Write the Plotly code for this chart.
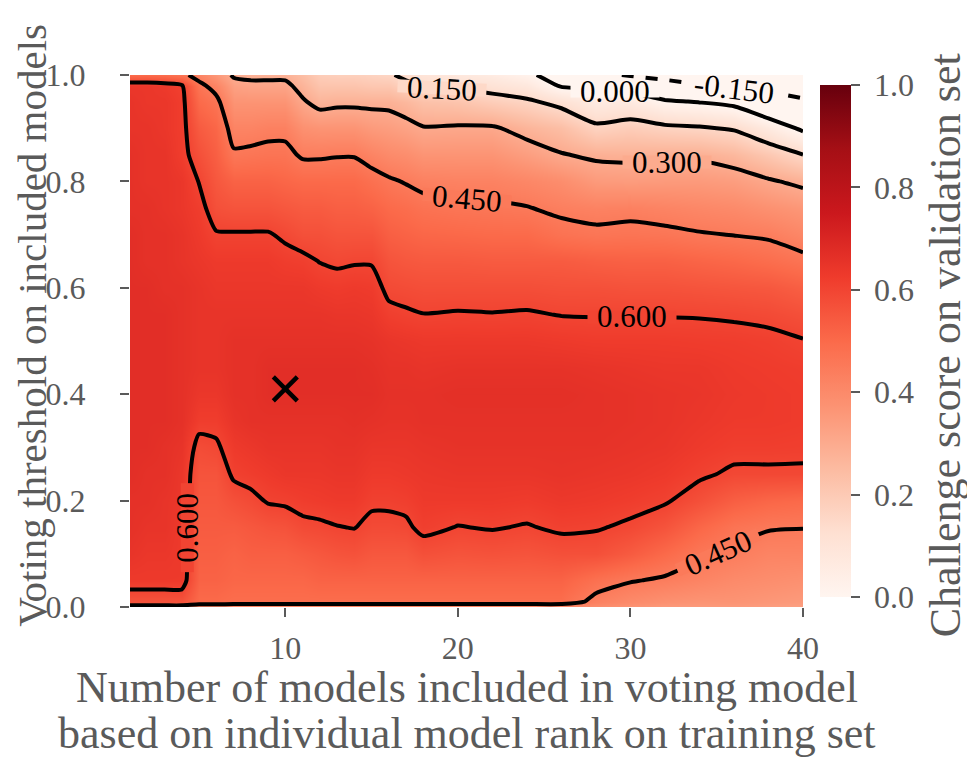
import plotly.graph_objects as go

# ---------------- data ----------------
models = [1, 2, 3, 4, 5, 6, 7, 8, 9, 10, 11, 12, 13, 14, 15, 16, 17, 18,
          20, 22, 24, 26, 28, 30, 32, 34, 36, 38, 40]
thresholds = [0.0, 0.01, 0.05, 0.10, 0.15, 0.20, 0.25, 0.30, 0.35, 0.40, 0.45,
              0.50, 0.55, 0.60, 0.65, 0.70, 0.75, 0.80, 0.85, 0.90, 0.95, 0.98, 1.0]

# challenge score per number of models (one list per column, bottom -> top)
score_n01 = [0.40, 0.56, 0.63, 0.65, 0.66, 0.66, 0.67, 0.67, 0.67, 0.67, 0.67, 0.67, 0.67, 0.67, 0.67, 0.67, 0.66, 0.66, 0.66, 0.65, 0.65, 0.64, 0.50]
score_n02 = [0.40, 0.56, 0.63, 0.64, 0.65, 0.66, 0.66, 0.67, 0.67, 0.67, 0.67, 0.67, 0.67, 0.67, 0.66, 0.66, 0.66, 0.65, 0.65, 0.65, 0.64, 0.64, 0.50]
score_n03 = [0.40, 0.56, 0.63, 0.64, 0.65, 0.65, 0.66, 0.66, 0.67, 0.67, 0.67, 0.67, 0.67, 0.66, 0.66, 0.66, 0.65, 0.65, 0.65, 0.64, 0.64, 0.63, 0.49]
score_n04 = [0.40, 0.56, 0.63, 0.63, 0.63, 0.64, 0.64, 0.65, 0.66, 0.66, 0.66, 0.66, 0.66, 0.66, 0.65, 0.65, 0.64, 0.64, 0.62, 0.62, 0.62, 0.61, 0.47]
score_n05 = [0.40, 0.50, 0.52, 0.53, 0.54, 0.55, 0.56, 0.58, 0.62, 0.64, 0.65, 0.65, 0.65, 0.65, 0.64, 0.63, 0.62, 0.598, 0.57, 0.54, 0.50, 0.47, 0.42]
score_n06 = [0.40, 0.50, 0.52, 0.53, 0.54, 0.55, 0.56, 0.59, 0.62, 0.64, 0.65, 0.65, 0.65, 0.64, 0.63, 0.605, 0.57, 0.55, 0.53, 0.51, 0.47, 0.42, 0.36]
score_n07 = [0.40, 0.49, 0.51, 0.52, 0.54, 0.57, 0.61, 0.63, 0.65, 0.66, 0.66, 0.66, 0.65, 0.64, 0.63, 0.605, 0.56, 0.52, 0.46, 0.42, 0.37, 0.33, 0.29]
score_n08 = [0.40, 0.49, 0.51, 0.53, 0.55, 0.585, 0.62, 0.64, 0.66, 0.66, 0.66, 0.66, 0.65, 0.64, 0.63, 0.605, 0.56, 0.52, 0.465, 0.42, 0.37, 0.32, 0.28]
score_n09 = [0.40, 0.49, 0.51, 0.53, 0.56, 0.605, 0.63, 0.65, 0.66, 0.67, 0.67, 0.66, 0.65, 0.64, 0.63, 0.605, 0.56, 0.52, 0.47, 0.43, 0.37, 0.32, 0.28]
score_n10 = [0.40, 0.49, 0.51, 0.53, 0.565, 0.61, 0.64, 0.65, 0.66, 0.67, 0.67, 0.66, 0.65, 0.64, 0.62, 0.59, 0.55, 0.51, 0.47, 0.43, 0.37, 0.32, 0.28]
score_n11 = [0.40, 0.49, 0.51, 0.54, 0.585, 0.62, 0.64, 0.65, 0.66, 0.67, 0.67, 0.66, 0.65, 0.64, 0.615, 0.57, 0.54, 0.50, 0.44, 0.38, 0.31, 0.27, 0.24]
score_n12 = [0.40, 0.49, 0.52, 0.55, 0.59, 0.625, 0.64, 0.65, 0.66, 0.67, 0.67, 0.66, 0.65, 0.63, 0.598, 0.57, 0.54, 0.50, 0.44, 0.37, 0.27, 0.22, 0.19]
score_n13 = [0.40, 0.49, 0.52, 0.56, 0.598, 0.63, 0.645, 0.655, 0.66, 0.67, 0.67, 0.66, 0.645, 0.625, 0.59, 0.56, 0.53, 0.50, 0.445, 0.37, 0.28, 0.22, 0.18]
score_n14 = [0.40, 0.49, 0.52, 0.565, 0.602, 0.63, 0.645, 0.655, 0.665, 0.67, 0.67, 0.66, 0.645, 0.63, 0.595, 0.56, 0.53, 0.50, 0.445, 0.37, 0.28, 0.22, 0.18]
score_n15 = [0.40, 0.49, 0.52, 0.55, 0.585, 0.61, 0.63, 0.645, 0.66, 0.67, 0.665, 0.655, 0.64, 0.625, 0.595, 0.56, 0.52, 0.48, 0.42, 0.35, 0.28, 0.21, 0.17]
score_n16 = [0.40, 0.49, 0.52, 0.55, 0.585, 0.61, 0.63, 0.645, 0.655, 0.66, 0.655, 0.645, 0.615, 0.585, 0.56, 0.53, 0.50, 0.46, 0.40, 0.34, 0.28, 0.21, 0.16]
score_n17 = [0.40, 0.49, 0.52, 0.55, 0.59, 0.615, 0.635, 0.645, 0.655, 0.66, 0.655, 0.64, 0.607, 0.58, 0.55, 0.52, 0.49, 0.445, 0.39, 0.325, 0.26, 0.17, 0.13]
score_n18 = [0.40, 0.49, 0.52, 0.57, 0.615, 0.63, 0.64, 0.65, 0.66, 0.66, 0.65, 0.635, 0.601, 0.575, 0.545, 0.51, 0.475, 0.43, 0.37, 0.305, 0.23, 0.145, 0.10]
score_n20 = [0.40, 0.49, 0.52, 0.56, 0.598, 0.63, 0.645, 0.655, 0.66, 0.665, 0.655, 0.635, 0.604, 0.575, 0.545, 0.505, 0.465, 0.425, 0.37, 0.31, 0.22, 0.13, 0.08]
score_n22 = [0.40, 0.49, 0.52, 0.565, 0.604, 0.63, 0.645, 0.655, 0.66, 0.665, 0.655, 0.635, 0.602, 0.575, 0.54, 0.50, 0.46, 0.425, 0.37, 0.31, 0.19, 0.11, 0.06]
score_n24 = [0.40, 0.49, 0.52, 0.56, 0.596, 0.625, 0.645, 0.655, 0.66, 0.665, 0.655, 0.635, 0.605, 0.575, 0.54, 0.50, 0.453, 0.41, 0.34, 0.27, 0.165, 0.08, 0.02]
score_n26 = [0.40, 0.49, 0.52, 0.57, 0.61, 0.635, 0.65, 0.655, 0.66, 0.665, 0.655, 0.63, 0.598, 0.57, 0.54, 0.475, 0.435, 0.39, 0.305, 0.24, 0.12, -0.01, -0.05]
score_n28 = [0.39, 0.43, 0.48, 0.57, 0.605, 0.63, 0.645, 0.655, 0.66, 0.66, 0.65, 0.625, 0.597, 0.57, 0.53, 0.465, 0.425, 0.35, 0.285, 0.17, 0.06, -0.02, -0.12]
score_n30 = [0.37, 0.40, 0.455, 0.54, 0.59, 0.62, 0.64, 0.65, 0.655, 0.655, 0.645, 0.625, 0.597, 0.565, 0.525, 0.47, 0.43, 0.345, 0.28, 0.19, 0.07, -0.05, -0.16]
score_n32 = [0.35, 0.38, 0.44, 0.50, 0.56, 0.607, 0.63, 0.645, 0.65, 0.65, 0.64, 0.625, 0.597, 0.565, 0.525, 0.465, 0.42, 0.35, 0.285, 0.17, 0.01, -0.09, -0.20]
score_n34 = [0.35, 0.37, 0.42, 0.46, 0.51, 0.57, 0.61, 0.63, 0.64, 0.645, 0.64, 0.622, 0.596, 0.56, 0.515, 0.455, 0.41, 0.35, 0.285, 0.16, -0.005, -0.14, -0.22]
score_n36 = [0.35, 0.37, 0.40, 0.44, 0.47, 0.53, 0.59, 0.618, 0.63, 0.635, 0.63, 0.62, 0.592, 0.555, 0.505, 0.448, 0.40, 0.34, 0.26, 0.14, -0.03, -0.19, -0.25]
score_n38 = [0.34, 0.36, 0.39, 0.42, 0.455, 0.51, 0.59, 0.618, 0.63, 0.63, 0.625, 0.615, 0.585, 0.55, 0.49, 0.44, 0.38, 0.31, 0.21, 0.07, -0.12, -0.17, -0.22]
score_n40 = [0.33, 0.35, 0.38, 0.42, 0.452, 0.50, 0.59, 0.615, 0.625, 0.625, 0.62, 0.603, 0.57, 0.53, 0.47, 0.41, 0.36, 0.28, 0.152, -0.02, -0.14, -0.19, -0.22]

best_models = [10]
best_threshold = [0.41]

contour_levels_solid = [0.0, 0.15, 0.30, 0.45, 0.60]
contour_level_dashed = [-0.15]

x_tick_values = [10, 20, 30, 40]
y_tick_values = [0.0, 0.2, 0.4, 0.6, 0.8, 1.0]
y_tick_text = ["0.0", "0.2", "0.4", "0.6", "0.8", "1.0"]
cbar_tick_values = [0.0, 0.2, 0.4, 0.6, 0.8, 1.0]
cbar_tick_text = ["0.0", "0.2", "0.4", "0.6", "0.8", "1.0"]

x_title_1 = "Number of models included in voting model"
x_title_2 = "based on individual model rank on training set"
y_title = "Voting threshold on included models"
cbar_title = "Challenge score on validation set"

# contour label placement (level, x, y, angle) -- layout only
label_levels = [0.15, 0.0, -0.15, 0.30, 0.45, 0.60, 0.60, 0.45]
label_x = [19.1, 29.1, 36.0, 32.1, 20.5, 30.1, 4.33, 35.1]
label_y = [0.975, 0.969, 0.974, 0.836, 0.768, 0.546, 0.150, 0.103]
label_angle = [3, 0, 7, 0, 5, 0, -90, -24]

# ---------------- build the grid ----------------
columns = [score_n01, score_n02, score_n03, score_n04, score_n05, score_n06, score_n07,
           score_n08, score_n09, score_n10, score_n11, score_n12, score_n13, score_n14,
           score_n15, score_n16, score_n17, score_n18, score_n20, score_n22, score_n24,
           score_n26, score_n28, score_n30, score_n32, score_n34, score_n36, score_n38,
           score_n40]
z = [[col[i] for col in columns] for i in range(len(thresholds))]

reds = [[0.0, "#fff5f0"], [0.125, "#fee0d2"], [0.25, "#fcbba1"], [0.375, "#fc9272"],
        [0.5, "#fb6a4a"], [0.625, "#ef3b2c"], [0.75, "#cb181d"], [0.875, "#a50f15"],
        [1.0, "#67000d"]]


def scale_colour(v):
    v = min(max(v, 0.0), 1.0)
    for (p0, c0), (p1, c1) in zip(reds[:-1], reds[1:]):
        if p0 <= v <= p1:
            t = (v - p0) / (p1 - p0)
            a = [int(c0[i:i + 2], 16) for i in (1, 3, 5)]
            b = [int(c1[i:i + 2], 16) for i in (1, 3, 5)]
            return "rgb(%d,%d,%d)" % tuple(round(a[k] + (b[k] - a[k]) * t) for k in range(3))
    return reds[-1][1]


FONT = "Liberation Serif"
GREY = "#5a5a5a"
LABEL_SIZE = 31
TICK_SIZE = 32
TITLE_SIZE = 44

fig = go.Figure()

fig.add_trace(go.Heatmap(
    x=models, y=thresholds, z=z, zmin=0, zmax=1, colorscale=reds, zsmooth="best",
    hoverinfo="skip",
    colorbar=dict(
        x=1.025, xanchor="left", xpad=0, y=0.5, yanchor="middle", len=1.0,
        thickness=31, outlinewidth=0, ticks="outside", ticklen=9, tickwidth=1.5,
        tickcolor=GREY, tickvals=cbar_tick_values,
        ticktext=["\u00a0" + t for t in cbar_tick_text],
        tickfont=dict(family=FONT, size=TICK_SIZE, color=GREY),
    ),
))

fig.add_trace(go.Contour(
    x=models, y=thresholds, z=z, autocontour=False, showscale=False, hoverinfo="skip",
    contours=dict(start=min(contour_levels_solid), end=max(contour_levels_solid),
                  size=0.15, coloring="none", showlabels=False),
    line=dict(color="black", width=4, smoothing=0.6),
))

fig.add_trace(go.Contour(
    x=models, y=thresholds, z=z, autocontour=False, showscale=False, hoverinfo="skip",
    contours=dict(start=contour_level_dashed[0], end=contour_level_dashed[0], size=0.15,
                  coloring="none", showlabels=False),
    line=dict(color="black", width=4, dash="dash", smoothing=0.6),
))

fig.add_trace(go.Scatter(
    x=best_models, y=best_threshold, mode="markers", hoverinfo="skip", showlegend=False,
    marker=dict(symbol="x-thin", size=24, color="black", line=dict(width=4.5, color="black")),
))

annotations = []
for lev, lx, ly, ang in zip(label_levels, label_x, label_y, label_angle):
    txt = "%.3f" % lev
    gap = (len(txt) - 1) * 0.5 * LABEL_SIZE + 0.25 * LABEL_SIZE + 18
    # thin mask in the colour of the contour level -> gap in the line under the label
    annotations.append(dict(
        text="\u00a0", x=lx, y=ly, xref="x", yref="y", showarrow=False,
        xanchor="center", yanchor="middle", textangle=ang, width=gap, height=12,
        bgcolor=scale_colour(lev), borderpad=0, font=dict(size=6)))
    annotations.append(dict(
        text=txt, x=lx, y=ly, xref="x", yref="y", showarrow=False,
        xanchor="center", yanchor="middle", textangle=ang,
        font=dict(family=FONT, size=LABEL_SIZE, color="black")))

annotations += [
    dict(text=x_title_1, xref="paper", yref="paper", x=0.5, y=-0.152,
         xanchor="center", yanchor="middle", showarrow=False,
         font=dict(family=FONT, size=TITLE_SIZE, color=GREY)),
    dict(text=x_title_2, xref="paper", yref="paper", x=0.5, y=-0.237,
         xanchor="center", yanchor="middle", showarrow=False,
         font=dict(family=FONT, size=TITLE_SIZE, color=GREY)),
    dict(text=y_title, xref="paper", yref="paper", x=-0.146, y=0.530,
         xanchor="center", yanchor="middle", textangle=-90, showarrow=False,
         borderpad=0, font=dict(family=FONT, size=41, color=GREY)),
    dict(text=cbar_title, xref="paper", yref="paper", x=1.213, y=0.4925,
         xanchor="center", yanchor="middle", textangle=-90, showarrow=False,
         font=dict(family=FONT, size=44, color=GREY)),
]

fig.update_layout(
    width=967, height=763,
    margin=dict(l=122, r=172, t=67, b=164),
    plot_bgcolor="white", paper_bgcolor="white",
    showlegend=False,
    font=dict(family=FONT, color=GREY),
    xaxis=dict(range=[1, 40], tickvals=x_tick_values, ticks="outside", ticklen=9,
               tickwidth=1.5, tickcolor=GREY, showgrid=False, zeroline=False,
               showline=False, ticklabelstandoff=4,
               tickfont=dict(family=FONT, size=TICK_SIZE, color=GREY)),
    yaxis=dict(range=[0, 1], tickvals=y_tick_values, ticktext=y_tick_text,
               ticks="outside", ticklen=9, tickwidth=1.5, tickcolor=GREY,
               showgrid=False, zeroline=False, showline=False, ticklabelstandoff=28,
               tickfont=dict(family=FONT, size=TICK_SIZE, color=GREY)),
    annotations=annotations,
)

fig.write_html("out.html")
